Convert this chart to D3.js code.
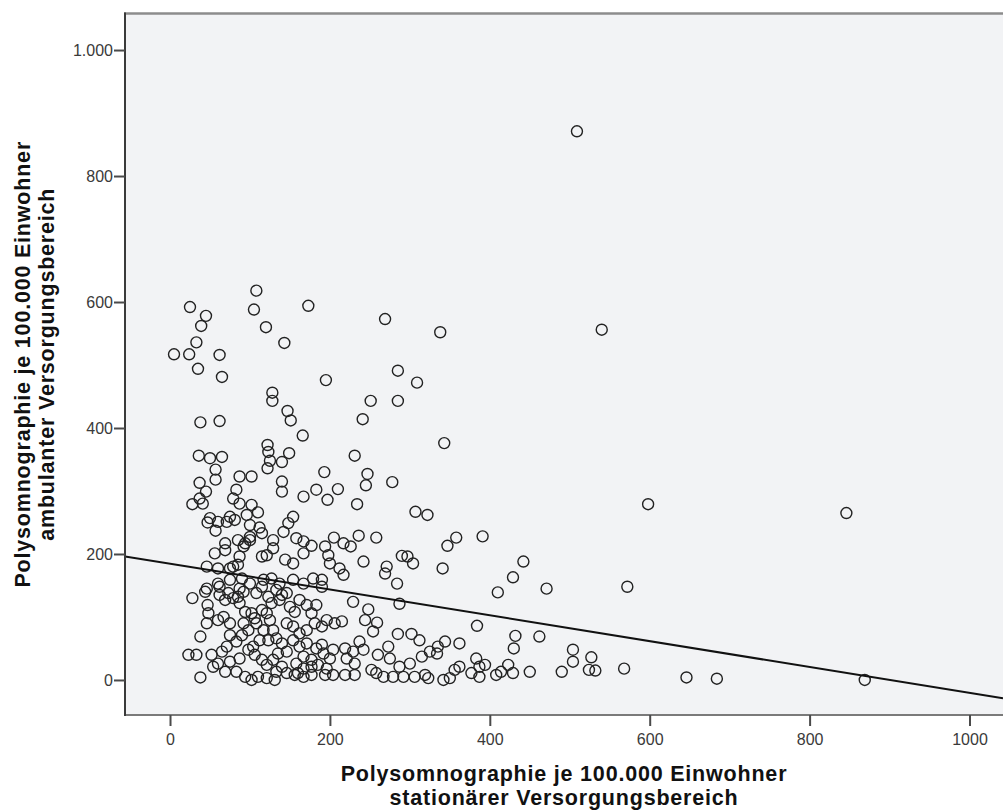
<!DOCTYPE html>
<html>
<head>
<meta charset="utf-8">
<script src="https://cdn.jsdelivr.net/npm/d3@7"></script>
<style>
  body { margin: 0; background: #fff; }
  .axis text { font-family: "Liberation Sans", Arial, sans-serif; font-size: 16px; fill: #3a3a3a; }
  .axis line { stroke: #4a4a4a; stroke-width: 2; }
  .title { font-family: "Liberation Sans", Arial, sans-serif; font-size: 21.5px; font-weight: bold; fill: #111; letter-spacing: 0.8px; }
</style>
</head>
<body>
<div id="chart"></div>
<script>
// Polysomnographie je 100.000 Einwohner, stationaer (x) gegen ambulant (y)
var stationaer = [
  509, 540, 846, 598, 572, 869, 646, 684, 568,
  269, 338, 285, 309, 195, 251, 285, 241, 343, 231,
  193, 247, 245, 278, 210, 197, 183, 234, 307, 322,
  205, 236, 258, 358, 391, 347, 217, 226, 194,
  198, 200, 242, 212, 217, 190, 290, 297, 304, 271,
  269, 284, 341, 442, 429, 410, 471, 287, 229, 248,
  244, 259, 254, 196, 206, 215, 384, 432, 430, 462,
  285, 302, 312, 344, 335, 334, 362, 325, 315, 300,
  287, 273, 275, 260, 237, 242, 190, 192, 204, 219,
  229, 200, 221, 231, 194, 204, 219, 231, 252, 258,
  267, 279, 292, 306, 319, 323, 342, 350, 356, 362,
  383, 387, 394, 377, 387, 408, 414, 423, 429, 450,
  490, 504, 504, 527, 524, 532,
  108, 25, 105, 173, 45, 39, 120, 143, 33, 5,
  24, 62, 35, 65, 128, 128, 147, 151, 166, 38,
  62,
  36, 50, 65, 57, 57, 37, 45, 37, 41, 28,
  87, 102, 122, 123, 125, 149, 140, 122, 140, 140,
  167, 83, 79, 87, 102, 110, 50, 60, 47, 57,
  75, 81, 71, 96, 100, 112, 115, 100, 154, 148,
  142, 158, 167, 177, 129, 129, 85, 94, 100, 92,
  69, 69, 56, 87, 85, 79, 115, 121, 144, 154,
  167, 46, 60, 75, 60, 75, 90, 100, 117, 127,
  137, 154, 167, 179, 190, 46, 62, 87,
  28, 44, 47, 48, 46, 38, 23, 33, 38, 52,
  54, 62, 69, 73, 79, 60, 67, 75, 85, 92,
  87, 94, 102, 106, 92, 98, 90, 75, 83, 71,
  65, 60, 75, 87, 69, 83, 98, 106, 115, 121,
  94, 102, 110, 121, 131, 108, 115, 123, 127, 133,
  140, 115, 121, 125, 108, 117, 129, 133, 123, 112,
  104, 140, 146, 135, 129, 140, 133, 146, 156, 167,
  177, 137, 146, 150, 156, 162, 171, 177, 183, 146,
  154, 162, 171, 181, 190, 154, 162, 171, 183, 167,
  177, 158, 167, 177, 185, 196, 160
];
var ambulant = [
  871, 556, 265, 279, 148, 0, 4, 2, 18,
  573, 552, 491, 472, 476, 443, 443, 414, 376, 356,
  330, 327, 309, 314, 303, 286, 302, 279, 267, 262,
  226, 229, 226, 226, 228, 213, 217, 212, 212,
  198, 185, 188, 177, 167, 148, 197, 196, 185, 180,
  169, 153, 177, 188, 163, 139, 145, 121, 124, 112,
  95, 91, 77, 95, 90, 93, 86, 70, 50, 69,
  73, 73, 63, 61, 53, 42, 58, 45, 37, 26,
  21, 53, 34, 40, 61, 48, 56, 42, 48, 50,
  45, 34, 34, 26, 8, 8, 8, 8, 16, 11,
  5, 5, 5, 5, 8, 3, 0, 3, 16, 21,
  34, 21, 24, 11, 5, 8, 13, 24, 11, 13,
  13, 48, 29, 36, 16, 15,
  618, 592, 588, 594, 578, 562, 560, 535, 536, 517,
  517, 516, 494, 481, 456, 443, 427, 412, 388, 409,
  411,
  356, 352, 354, 334, 318, 313, 299, 288, 280, 279,
  323, 323, 373, 362, 348, 360, 346, 336, 315, 299,
  291, 302, 288, 280, 278, 266, 257, 251, 250, 237,
  259, 254, 251, 262, 246, 242, 233, 227, 259, 249,
  235, 225, 220, 213, 222, 209, 222, 217, 222, 212,
  217, 206, 201, 196, 183, 180, 196, 198, 191, 185,
  201, 180, 177, 177, 153, 159, 161, 153, 159, 161,
  153, 159, 153, 161, 159, 145, 148, 145,
  130, 140, 119, 106, 90, 69, 40, 40, 4, 40,
  21, 135, 127, 138, 130, 95, 100, 90, 132, 140,
  122, 108, 106, 98, 90, 79, 71, 71, 61, 53,
  45, 26, 29, 34, 13, 13, 48, 40, 32, 24,
  5, 0, 5, 3, 0, 138, 148, 132, 122, 143,
  135, 111, 106, 95, 90, 79, 79, 66, 63, 63,
  53, 58, 45, 42, 32, 21, 13, 11, 8, 5,
  8, 127, 138, 116, 108, 127, 119, 106, 119, 90,
  85, 74, 79, 90, 85, 63, 53, 58, 50, 37,
  32, 26, 18, 21, 24, 18, 11
];

var xTicks = [0, 200, 400, 600, 800, 1000];
var yTicks = [0, 200, 400, 600, 800, 1000];

// lineare Anpassung
var fitIntercept = 184.6;
var fitSlope = -0.205;

var xTitle = ["Polysomnographie je 100.000 Einwohner", "stationärer Versorgungsbereich"];
var yTitle = ["Polysomnographie je 100.000 Einwohner", "ambulanter Versorgungsbereich"];

var width = 1003, height = 811;
var plot = {left: 125, top: 13.5, right: 1003, bottom: 715};

var x = d3.scaleLinear().domain([-56.3, 1041.9]).range([plot.left, plot.right]);
var y = d3.scaleLinear().domain([-55.6, 1058]).range([plot.bottom, plot.top]);

var svg = d3.select("#chart").append("svg")
    .attr("width", width)
    .attr("height", height);

svg.append("defs").append("clipPath")
    .attr("id", "clip")
  .append("rect")
    .attr("x", plot.left)
    .attr("y", plot.top)
    .attr("width", plot.right - plot.left)
    .attr("height", plot.bottom - plot.top);

svg.append("rect")
    .attr("x", plot.left)
    .attr("y", plot.top)
    .attr("width", plot.right - plot.left)
    .attr("height", plot.bottom - plot.top)
    .attr("fill", "#f2f3f5");

var inner = svg.append("g").attr("clip-path", "url(#clip)");

inner.selectAll(".dot")
    .data(d3.zip(stationaer, ambulant))
  .enter().append("circle")
    .attr("class", "dot")
    .attr("cx", function(d) { return x(d[0]); })
    .attr("cy", function(d) { return y(d[1]); })
    .attr("r", 5.5)
    .attr("fill", "none")
    .attr("stroke", "#222")
    .attr("stroke-width", 1.4);

var fit = d3.line()
    .x(function(d) { return x(d); })
    .y(function(d) { return y(fitIntercept + fitSlope * d); });

inner.append("path")
    .datum(x.domain())
    .attr("d", fit)
    .attr("fill", "none")
    .attr("stroke", "#111")
    .attr("stroke-width", 2);

// Rahmen
svg.append("line")
    .attr("x1", plot.left - 1).attr("x2", plot.right)
    .attr("y1", plot.top).attr("y2", plot.top)
    .attr("stroke", "#8c8c8c").attr("stroke-width", 2.5);
svg.append("line")
    .attr("x1", plot.left - 1).attr("x2", plot.right)
    .attr("y1", plot.bottom).attr("y2", plot.bottom)
    .attr("stroke", "#7a7a7a").attr("stroke-width", 2);
svg.append("line")
    .attr("x1", plot.left).attr("x2", plot.left)
    .attr("y1", plot.top - 1).attr("y2", plot.bottom + 1)
    .attr("stroke", "#3a3a3a").attr("stroke-width", 2);

var de = d3.formatLocale({decimal: ",", thousands: ".", grouping: [3], currency: ["", " €"]});

var yAxis = svg.append("g")
    .attr("class", "axis")
    .attr("transform", "translate(" + plot.left + ",0)")
    .call(d3.axisLeft(y).tickValues(yTicks).tickSize(11).tickPadding(1).tickFormat(de.format(",d")));
yAxis.select(".domain").remove();

var xAxis = svg.append("g")
    .attr("class", "axis")
    .attr("transform", "translate(0," + plot.bottom + ")")
    .call(d3.axisBottom(x).tickValues(xTicks).tickSize(11).tickPadding(7.5).tickFormat(d3.format("d")));
xAxis.select(".domain").remove();

// Achsentitel, je eine Zeile als eigener Text
var cx = (plot.left + plot.right) / 2;
svg.selectAll(".xtitle")
    .data(xTitle)
  .enter().append("text")
    .attr("class", "title xtitle")
    .attr("text-anchor", "middle")
    .attr("x", cx)
    .attr("y", function(d, i) { return 781 + i * 24; })
    .text(function(d) { return d; });

var cy = (plot.top + plot.bottom) / 2;
svg.selectAll(".ytitle")
    .data(yTitle)
  .enter().append("text")
    .attr("class", "title ytitle")
    .attr("text-anchor", "middle")
    .attr("transform", function(d, i) { return "translate(" + (30 + i * 24) + "," + cy + ") rotate(-90)"; })
    .text(function(d) { return d; });
</script>
</body>
</html>
